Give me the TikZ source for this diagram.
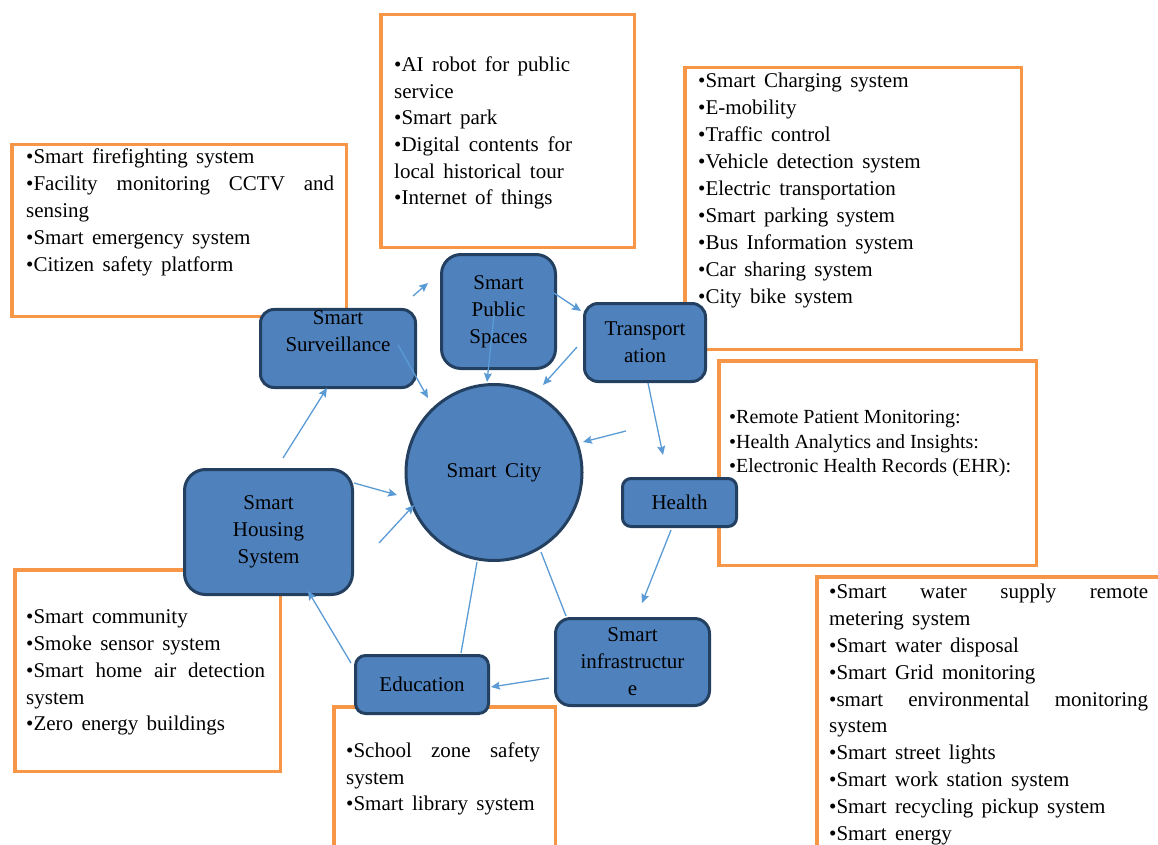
\documentclass[tikz,border=0pt]{standalone}
\usepackage{fontspec}
\setmainfont{Liberation Serif}
\usetikzlibrary{arrows.meta}

\definecolor{boxorange}{RGB}{247,150,70}
\definecolor{nodeblue}{RGB}{79,129,189}
\definecolor{nodeedge}{RGB}{36,64,97}
\definecolor{arrowblue}{RGB}{91,155,213}

% body text with the slightly wide word spaces of the lists
\newcommand{\listfont}[1]{\fontsize{21}{#1}\selectfont\spaceskip=8.4pt plus 4pt minus 1.5pt\relax}

\begin{document}
\begin{tikzpicture}[x=1pt,y=-1pt,
  listbox/.style={draw=boxorange, line width=3.5pt, fill=white, inner sep=0pt, outer sep=0pt},
  listtext/.style={anchor=north west, inner sep=0pt, align=left, font=\listfont{27}},
  hub/.style={draw=nodeedge, line width=3pt, fill=nodeblue, align=center, inner sep=1pt,
              font=\listfont{27}},
  flow/.style={draw=arrowblue, line width=1.3pt, -{Stealth[length=9pt,width=8pt,inset=1.5pt]}},
  tie/.style={draw=arrowblue, line width=1.3pt}]

\useasboundingbox (0,0) rectangle (1158,845);
\clip (0,0) rectangle (1158,845);

% ---------- orange lists ----------
\node[listbox, minimum width=334.5, minimum height=171.5] (survbox) at (179,230.5) {};
\node[listtext] (survlist) at (26,148.7) {%
  •Smart firefighting system\\
  \makebox[308pt][s]{•Facility monitoring CCTV and}\\
  sensing\\
  •Smart emergency system\\
  •Citizen safety platform};

\node[listbox, minimum width=253.5, minimum height=232.5] (pubbox) at (507.5,131) {};
\node[listtext, font=\listfont{26.6}] (publist) at (394,56.7) {%
  •AI robot for public\\
  service\\
  •Smart park\\
  \makebox[178pt][s]{•Digital contents for}\\
  local historical tour\\
  •Internet of things};

\node[listbox, minimum width=336.5, minimum height=281.5] (transbox) at (853,208.5) {};
\node[listtext] (translist) at (698,72.7) {%
  •Smart Charging system\\
  •E-mobility\\
  •Traffic control\\
  •Vehicle detection system\\
  •Electric transportation\\
  •Smart parking system\\
  •Bus Information system\\
  •Car sharing system\\
  •City bike system};

\node[listbox, minimum width=317.5, minimum height=204.5] (healthbox) at (877.5,463) {};
\node[listtext, font=\fontsize{20}{24.5}\selectfont] (healthlist) at (729,410.3) {%
  •Remote Patient Monitoring:\\
  •Health Analytics and Insights:\\
  •Electronic Health Records (EHR):};

\node[listbox, minimum width=361.25, minimum height=291.25] (infrabox) at (997.4,722.4) {};
\node[listtext, font=\listfont{26.9}] (infralist) at (829,583.7) {%
  \makebox[319pt][s]{•Smart water supply remote}\\
  metering system\\
  •Smart water disposal\\
  •Smart Grid monitoring\\
  \makebox[319pt][s]{•smart environmental monitoring}\\
  system\\
  •Smart street lights\\
  •Smart work station system\\
  •Smart recycling pickup system\\
  •Smart energy};

\node[listbox, minimum width=265.5, minimum height=201.5] (housebox) at (147.5,670.5) {};
\node[listtext, font=\listfont{26.75}] (houselist) at (26,609.7) {%
  •Smart community\\
  •Smoke sensor system\\
  \makebox[239pt][s]{•Smart home air detection}\\
  system\\
  •Zero energy buildings};

\node[listbox, minimum width=221.5, minimum height=161.25] (edubox) at (444.5,787.4) {};
\node[listtext, font=\listfont{26.5}] (edulist) at (346,742.7) {%
  \makebox[194pt][s]{•School zone safety}\\
  system\\
  •Smart library system};

% ---------- blue topic nodes ----------
\node[hub, rounded corners=13.5pt, minimum width=155, minimum height=78] (surv) at (338,348.5)
  {Smart\\Surveillance\\\strut};
\node[hub, rounded corners=19.5pt, minimum width=114, minimum height=114] (pub) at (498.5,311.5)
  {Smart\\Public\\Spaces};
\node[hub, rounded corners=13.5pt, minimum width=121, minimum height=78] (trans) at (645,342.5)
  {Transport\\ation};
\node[hub, circle, minimum size=176] (city) at (494,472.5) {Smart City};
\node[hub, rounded corners=8.5pt, minimum width=114, minimum height=48] (health) at (679.5,502.5)
  {Health};
\node[hub, rounded corners=21pt, minimum width=168, minimum height=125] (house) at (268.5,532)
  {Smart\\Housing\\System};
\node[hub, rounded corners=10pt, minimum width=133, minimum height=58] (edu) at (422,684.5)
  {Education};
\node[hub, rounded corners=15pt, minimum width=154, minimum height=87] (infra) at (632.5,662)
  {Smart\\infrastructur\\e};

% ---------- connector end points ----------
\coordinate (a1s) at (283,458);  \coordinate (a1e) at (327,388);
\coordinate (a2s) at (413,296);  \coordinate (a2e) at (428,283);
\coordinate (a3s) at (398,345);  \coordinate (a3e) at (428,398);
\coordinate (a4s) at (554,293);  \coordinate (a4e) at (581,311);
\coordinate (a5s) at (494,315);  \coordinate (a5e) at (487,382);
\coordinate (a6s) at (577,347);  \coordinate (a6e) at (543,385);
\coordinate (a7s) at (648,383);  \coordinate (a7e) at (663,455);
\coordinate (a8s) at (626,431);  \coordinate (a8e) at (583,442);
\coordinate (a9s) at (671,530);  \coordinate (a9e) at (642,603);
\coordinate (a10s) at (549,678); \coordinate (a10e) at (491,687);
\coordinate (a11s) at (351,663); \coordinate (a11e) at (308,591);
\coordinate (a12s) at (354,483); \coordinate (a12e) at (397,495);
\coordinate (a13s) at (379,543); \coordinate (a13e) at (414,505);
\coordinate (l1s) at (461,653);  \coordinate (l1e) at (477,562);
\coordinate (l2s) at (566,616);  \coordinate (l2e) at (541,552);

% ---------- connectors ----------
\draw[flow] (a1s) -- (a1e);
\draw[flow] (a2s) -- (a2e);
\draw[flow] (a3s) -- (a3e);
\draw[flow] (a4s) -- (a4e);
\draw[flow] (a5s) -- (a5e);
\draw[flow] (a6s) -- (a6e);
\draw[flow] (a7s) -- (a7e);
\draw[flow] (a8s) -- (a8e);
\draw[flow] (a9s) -- (a9e);
\draw[flow] (a10s) -- (a10e);
\draw[flow] (a11s) -- (a11e);
\draw[flow] (a12s) -- (a12e);
\draw[flow] (a13s) -- (a13e);
\draw[tie] (l1s) -- (l1e);
\draw[tie] (l2s) -- (l2e);
\end{tikzpicture}
\end{document}
